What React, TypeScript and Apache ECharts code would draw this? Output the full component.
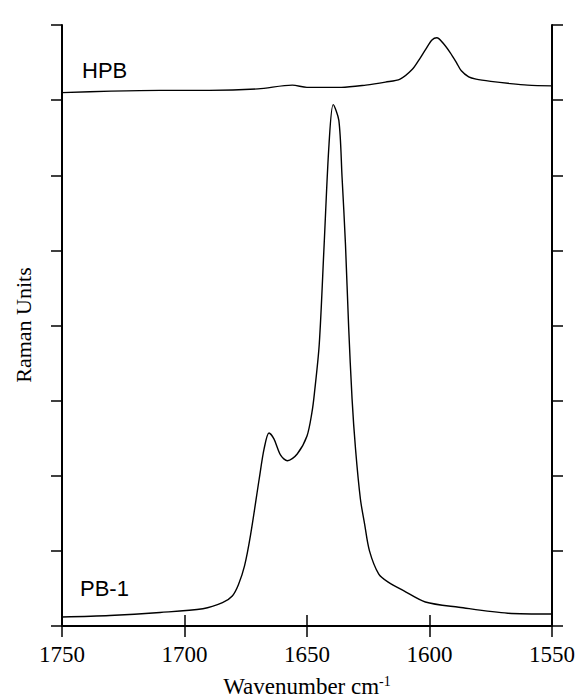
import React, { useEffect, useRef } from "react";
import * as echarts from "echarts";

// Wavenumbers (cm^-1) and Raman intensities (arbitrary units, axis 0..8)
const hpbWavenumber = [1750, 1730, 1710, 1690, 1670, 1656, 1650, 1636, 1626, 1618, 1612, 1607, 1604, 1601.5, 1599, 1597, 1594.5, 1591.5, 1589, 1587, 1584, 1581, 1575, 1567, 1560, 1550];
const hpbIntensity = [7.10, 7.12, 7.13, 7.13, 7.15, 7.20, 7.17, 7.17, 7.20, 7.24, 7.28, 7.41, 7.55, 7.68, 7.80, 7.83, 7.76, 7.63, 7.50, 7.39, 7.31, 7.28, 7.25, 7.22, 7.20, 7.19];

const pbWavenumber = [1750, 1730.5, 1710, 1692.5, 1684.5, 1680.5, 1678, 1675.5, 1673, 1669.5, 1667.5, 1665.5, 1663.5, 1660.7, 1658, 1654, 1650, 1648, 1647, 1645, 1643, 1641, 1639.3, 1637, 1635.7, 1634.3, 1633, 1631.6, 1630.2, 1628.2, 1626.5, 1624.5, 1620.7, 1616.7, 1610.6, 1601.7, 1588, 1568, 1550];
const pbIntensity = [0.12, 0.14, 0.18, 0.23, 0.31, 0.40, 0.55, 0.80, 1.22, 1.96, 2.36, 2.57, 2.49, 2.27, 2.20, 2.29, 2.53, 2.84, 3.09, 3.75, 5.08, 6.42, 6.94, 6.73, 5.98, 5.08, 3.98, 3.02, 2.36, 1.69, 1.36, 1.00, 0.69, 0.58, 0.47, 0.32, 0.25, 0.17, 0.16];

const xTicks = [1750, 1700, 1650, 1600, 1550];
const seriesLabels = ["HPB", "PB-1"];
const xTitle = "Wavenumber cm";
const yTitle = "Raman Units";

export default function App() {
  const ref = useRef<HTMLDivElement>(null);
  useEffect(() => {
    document.body.style.margin = "0";
    if (!ref.current) return;
    const chart = echarts.init(ref.current, undefined, { renderer: "svg" });
    const axisLine = { show: true, lineStyle: { color: "#000", width: 2 } };
    const tick = { show: true, inside: false, length: 11, lineStyle: { color: "#000", width: 1.5 } };
    chart.setOption({
      animation: false,
      grid: { left: 62, right: 23, top: 25, bottom: 74, containLabel: false },
      xAxis: [
        {
          type: "value",
          min: 1550,
          max: 1750,
          interval: 50,
          inverse: true,
          position: "bottom",
          axisLine,
          axisTick: tick,
          splitLine: { show: false },
          axisLabel: {
            show: true,
            margin: 17,
            color: "#000",
            fontFamily: "Liberation Serif",
            fontSize: 23,
            formatter: (v: number) => (xTicks.includes(v) ? String(v) : ""),
          },
        },
        {
          type: "value",
          min: 1550,
          max: 1750,
          interval: 50,
          inverse: true,
          position: "top",
          axisLine,
          axisTick: tick,
          splitLine: { show: false },
          axisLabel: { show: false },
        },
      ],
      yAxis: [
        {
          type: "value",
          min: 0,
          max: 8,
          interval: 1,
          position: "left",
          axisLine,
          axisTick: tick,
          splitLine: { show: false },
          axisLabel: { show: false },
        },
        {
          type: "value",
          min: 0,
          max: 8,
          interval: 1,
          position: "right",
          axisLine,
          axisTick: tick,
          splitLine: { show: false },
          axisLabel: { show: false },
        },
      ],
      series: [
        {
          name: seriesLabels[0],
          type: "line",
          data: hpbWavenumber.map((w, i) => [w, hpbIntensity[i]]),
          showSymbol: false,
          smooth: 0.3,
          lineStyle: { color: "#000", width: 1.4 },
        },
        {
          name: seriesLabels[1],
          type: "line",
          data: pbWavenumber.map((w, i) => [w, pbIntensity[i]]),
          showSymbol: false,
          smooth: 0.3,
          lineStyle: { color: "#000", width: 1.4 },
        },
      ],
      graphic: [
        {
          type: "text",
          left: 82,
          top: 59,
          style: { text: seriesLabels[0], font: "22px 'Liberation Sans'", fill: "#000" },
        },
        {
          type: "text",
          left: 80,
          top: 577,
          style: { text: seriesLabels[1], font: "22px 'Liberation Sans'", fill: "#000" },
        },
        {
          type: "text",
          x: 23,
          y: 325,
          rotation: Math.PI / 2,
          style: {
            text: yTitle,
            font: "22px 'Liberation Serif'",
            fill: "#000",
            align: "center",
            verticalAlign: "middle",
          },
        },
        {
          type: "text",
          x: 307,
          y: 686,
          style: {
            text: "{a|" + xTitle + "}{b|-1}",
            align: "center",
            verticalAlign: "middle",
            rich: {
              a: { font: "23px 'Liberation Serif'", fill: "#000", color: "#000" },
              b: { font: "14px 'Liberation Serif'", fill: "#000", color: "#000", verticalAlign: "top", padding: [0, 0, 10, 0] },
            },
          },
        },
      ],
    });
    return () => chart.dispose();
  }, []);
  return <div ref={ref} style={{ width: 578, height: 700 }} />;
}
